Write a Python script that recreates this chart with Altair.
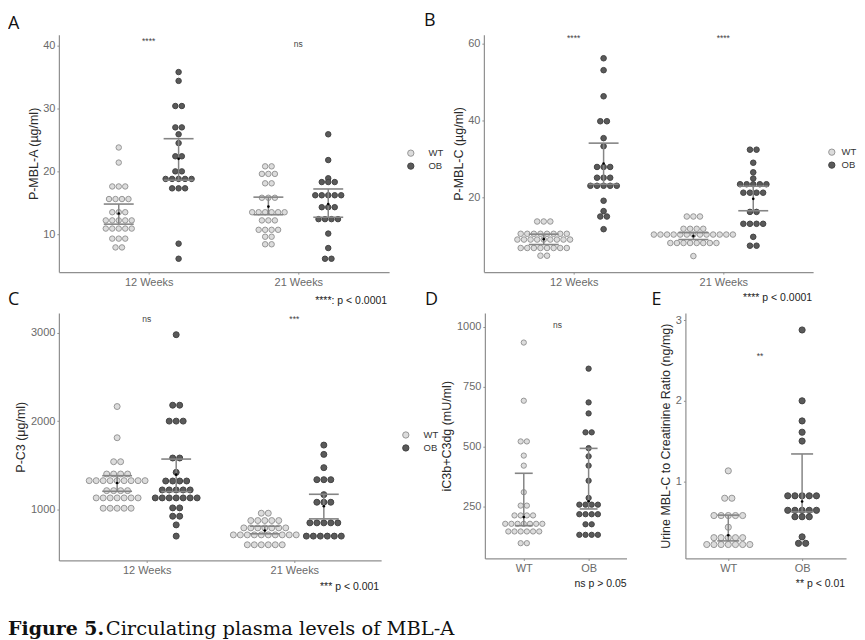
import altair as alt
import pandas as pd

SANS = "Liberation Sans"
GROUPS = ["WT", "OB"]
FILLS = ["#dcdcdc", "#5a5a5a"]
STROKES = ["#969696", "#434343"]
BAR_COLOR = "#858585"
TIMES = ["12 Weeks", "21 Weeks"]
GENOS = ["WT", "OB"]

# ---------------------------------------------------------------- data
# every dot-plot row: (value, number of dots in that row)
# Panel A  P-MBL-A (ug/ml)
A_WT_12 = [(23.8, 1), (21.4, 1), (17.6, 3), (15.6, 4), (13.5, 3), (12.2, 5), (10.9, 5), (9.3, 3), (7.9, 2)]
A_OB_12 = [(35.8, 1), (34.4, 1), (30.4, 2), (27.0, 2), (25.9, 1), (24.5, 1), (22.4, 2), (20.0, 2),
           (18.8, 5), (17.3, 3), (8.5, 1), (6.1, 1)]
A_WT_21 = [(20.8, 2), (19.6, 3), (18.1, 2), (15.8, 3), (13.5, 6), (12.2, 3), (10.7, 4), (9.6, 2), (8.4, 2)]
A_OB_21 = [(25.9, 1), (21.8, 1), (18.9, 1), (18.3, 3), (16.2, 5), (14.3, 3), (12.4, 4), (10.1, 1),
           (7.8, 1), (6.1, 2)]
# (group, category, lower bar, upper bar, centre point)
A_BARS = [("WT", 1, 11.6, 14.8, 13.3), ("OB", 1, 18.6, 25.2, 22.0),
          ("WT", 2, 13.1, 15.9, 14.4), ("OB", 2, 12.7, 17.2, 14.8)]
A_SIG = [("****", 1, 40.7), ("ns", 2, 40.3)]

# Panel B  P-MBL-C (ug/ml)
B_WT_12 = [(13.7, 3), (10.5, 8), (9.0, 9), (6.8, 8), (4.8, 2)]
B_OB_12 = [(56.2, 1), (53.1, 1), (46.3, 1), (39.8, 2), (35.4, 1), (33.3, 1), (27.9, 3), (25.1, 3),
           (23.0, 5), (19.1, 1), (16.4, 1), (15.0, 2), (11.7, 1)]
B_WT_21 = [(15.0, 3), (11.8, 4), (10.3, 13), (8.1, 8), (4.7, 1)]
B_OB_21 = [(32.4, 2), (29.0, 1), (26.5, 1), (24.9, 1), (23.4, 5), (21.2, 4), (16.2, 2), (13.1, 4),
           (9.7, 1), (7.4, 2)]
B_BARS = [("WT", 1, 7.7, 10.4, 9.1), ("OB", 1, 23.4, 34.1, 28.8),
          ("WT", 2, 9.0, 10.8, 9.9), ("OB", 2, 16.5, 22.9, 19.6)]
B_SIG = [("****", 1, 61.6), ("****", 2, 61.6)]

# Panel C  P-C3 (ug/ml)
C_WT_12 = [(2165, 1), (1812, 1), (1541, 2), (1402, 4), (1327, 9), (1214, 4), (1132, 7), (1015, 5)]
C_OB_12 = [(2977, 1), (2180, 2), (2000, 3), (1583, 2), (1421, 1), (1323, 4), (1222, 5), (1132, 7),
           (1019, 2), (925, 2), (827, 1), (700, 1)]
C_WT_21 = [(959, 2), (876, 5), (793, 7), (714, 10), (602, 6)]
C_OB_21 = [(1729, 1), (1624, 1), (1474, 1), (1338, 3), (1169, 1), (1083, 3), (850, 5), (700, 6)]
C_BARS = [("WT", 1, 1207, 1383, 1301), ("OB", 1, 1203, 1571, 1395),
          ("WT", 2, 726, 812, 763), ("OB", 2, 895, 1173, 1038)]
C_SIG = [("ns", 1, 3150), ("***", 2, 3160)]

# Panel D  iC3b+C3dg (mU/ml)
D_WT = [(935, 1), (692, 1), (522, 2), (463, 1), (421, 1), (310, 1), (254, 2), (213, 4), (178, 7),
        (146, 6), (97, 2)]
D_OB = [(826, 1), (685, 1), (639, 1), (560, 2), (494, 1), (460, 1), (421, 1), (358, 1), (286, 1),
        (258, 4), (218, 4), (176, 2), (132, 4)]
D_BARS = [("WT", 1, 170, 389, 206), ("OB", 2, 240, 493, 272)]
D_SIG = [("ns", 1.52, 1008)]

# Panel E  Urine MBL-C to creatinine ratio (ng/mg)
E_WT = [(1.13, 1), (0.79, 2), (0.575, 5), (0.43, 1), (0.30, 5), (0.215, 7)]
E_OB = [(2.88, 1), (2.00, 1), (1.75, 1), (1.61, 1), (1.50, 1), (0.82, 5), (0.64, 5), (0.56, 3),
        (0.31, 1), (0.23, 2)]
E_BARS = [("WT", 1, 0.26, 0.58, 0.33), ("OB", 2, 0.62, 1.34, 0.75)]
E_SIG = [("**", 1.43, 2.56)]

CAPTION_BOLD = "Figure 5."
CAPTION_TEXT = "Circulating plasma levels of MBL-A"


# ---------------------------------------------------------------- helpers
def dot_frame(series, dodge, step):
    recs = []
    for group, cat, rows in series:
        centre = cat + dodge[group]
        for value, n in rows:
            for i in range(n):
                recs.append({"group": group, "x": centre + (i - (n - 1) / 2) * step, "y": value})
    return pd.DataFrame(recs)


def bar_frame(bars, dodge, cap):
    recs = []
    for group, cat, lo, hi, mean in bars:
        c = cat + dodge[group]
        recs.append({"group": group, "xc": c, "xa": c - cap, "xb": c + cap,
                     "lo": lo, "hi": hi, "mean": mean})
    return pd.DataFrame(recs)


def text_layer(text, x, y, align="left", baseline="alphabetic", font=SANS, size=10.5,
               color="#222222", weight="normal", opacity=1):
    return alt.Chart(pd.DataFrame({"t": [text]})).mark_text(
        align=align, baseline=baseline, font=font, fontSize=size, color=color,
        fontWeight=weight, opacity=opacity
    ).encode(x=alt.value(x), y=alt.value(y), text="t:N")


def panel(series, bars, sig, *, width, height, xdom, ydom, yticks, ytitle, xlabels, dodge,
          step, cap, size, letter, letter_pos, legend_pos=None, legend_offset=13, notes=(),
          spacer=None):
    xs = alt.Scale(domain=xdom, nice=False, zero=False)
    ys = alt.Scale(domain=ydom, nice=False, zero=False)
    label_expr = f"datum.value == 1 ? '{xlabels[0]}' : '{xlabels[1]}'"
    xa = alt.Axis(values=[1, 2], labelExpr=label_expr, title=None, labelPadding=2)
    ya = alt.Axis(values=yticks, format="d", title=ytitle)
    if legend_pos is None:
        legend = None
    else:
        legend = alt.Legend(orient="none", legendX=legend_pos[0], legendY=legend_pos[1],
                            title=None, labelOffset=legend_offset)

    dots = alt.Chart(dot_frame(series, dodge, step)).mark_circle(
        size=size, opacity=1, strokeWidth=1
    ).encode(
        x=alt.X("x:Q", scale=xs, axis=xa),
        y=alt.Y("y:Q", scale=ys, axis=ya),
        color=alt.Color("group:N", scale=alt.Scale(domain=GROUPS, range=FILLS), legend=legend),
        stroke=alt.Stroke("group:N", scale=alt.Scale(domain=GROUPS, range=STROKES), legend=legend),
    )
    bdf = bar_frame(bars, dodge, cap)
    stem = alt.Chart(bdf).mark_rule(color=BAR_COLOR, strokeWidth=1.5).encode(
        x=alt.X("xc:Q", scale=xs, axis=xa),
        y=alt.Y("lo:Q", scale=ys, axis=ya), y2=alt.Y2("hi"))
    top = alt.Chart(bdf).mark_rule(color=BAR_COLOR, strokeWidth=1.6).encode(
        x=alt.X("xa:Q", scale=xs, axis=xa), x2=alt.X2("xb"),
        y=alt.Y("hi:Q", scale=ys, axis=ya))
    bottom = alt.Chart(bdf).mark_rule(color=BAR_COLOR, strokeWidth=1.6).encode(
        x=alt.X("xa:Q", scale=xs, axis=xa), x2=alt.X2("xb"),
        y=alt.Y("lo:Q", scale=ys, axis=ya))
    mean = alt.Chart(bdf).mark_circle(color="#000000", size=7, opacity=1).encode(
        x=alt.X("xc:Q", scale=xs, axis=xa),
        y=alt.Y("mean:Q", scale=ys, axis=ya))
    sigm = alt.Chart(pd.DataFrame(sig, columns=["t", "x", "y"])).mark_text(
        font=SANS, fontSize=8.5, color="#444444", baseline="middle"
    ).encode(
        x=alt.X("x:Q", scale=xs, axis=xa),
        y=alt.Y("y:Q", scale=ys, axis=ya),
        text="t:N")
    layers = [dots, stem, top, bottom, mean, sigm,
              text_layer(letter, letter_pos[0], letter_pos[1], font="Open Sans", size=18,
                         color="#111111")]
    for text, px, py in notes:
        layers.append(text_layer(text, px, py, align="right", baseline="middle"))
    if spacer is not None:
        layers.append(text_layer(".", spacer, height / 2, align="right", opacity=0))
    return alt.layer(*layers).properties(width=width, height=height)


WT_OB_DODGE = {"WT": -0.2, "OB": 0.2}
NO_DODGE = {"WT": 0.0, "OB": 0.0}

pA = panel([("WT", 1, A_WT_12), ("OB", 1, A_OB_12), ("WT", 2, A_WT_21), ("OB", 2, A_OB_21)],
           A_BARS, A_SIG, width=331, height=238, xdom=[0.4, 2.6067], ydom=[3.97, 41.75],
           yticks=[10, 20, 30, 40], ytitle="P-MBL-A (µg/ml)", xlabels=TIMES, dodge=WT_OB_DODGE,
           step=6.5 / 150, cap=0.1, size=30, letter="A", letter_pos=(-51, -6),
           legend_pos=(348, 114))
pB = panel([("WT", 1, B_WT_12), ("OB", 1, B_OB_12), ("WT", 2, B_WT_21), ("OB", 2, B_OB_21)],
           B_BARS, B_SIG, width=330, height=238, xdom=[0.4, 2.6], ydom=[0.52, 62.34],
           yticks=[20, 40, 60], ytitle="P-MBL-C (µg/ml)", xlabels=TIMES, dodge=WT_OB_DODGE,
           step=6.6 / 150, cap=0.1, size=31, letter="B", letter_pos=(-60, -9),
           legend_pos=(344, 113), legend_offset=5)
pC = panel([("WT", 1, C_WT_12), ("OB", 1, C_OB_12), ("WT", 2, C_WT_21), ("OB", 2, C_OB_21)],
           C_BARS, C_SIG, width=323, height=248, xdom=[0.4054, 2.588], ydom=[425, 3222],
           yticks=[1000, 2000, 3000], ytitle="P-C3 (μg/ml)", xlabels=TIMES, dodge=WT_OB_DODGE,
           step=7.0 / 148, cap=0.101, size=36, letter="C", letter_pos=(-51, -8.5),
           notes=[("****: p < 0.0001", 329, -12), ("*** p < 0.001", 321, 275)])
pD = panel([("WT", 1, D_WT), ("OB", 2, D_OB)],
           D_BARS, D_SIG, width=142, height=246, xdom=[0.4, 2.585], ydom=[33.3, 1058.3],
           yticks=[250, 500, 750, 1000], ytitle="iC3b+C3dg (mU/ml)", xlabels=GENOS,
           dodge=NO_DODGE, step=6.2 / 65, cap=0.138, size=28, letter="D",
           letter_pos=(-60, -8.5), legend_pos=(-84, 117.5),
           notes=[("ns p > 0.05", 142, 271.3)], spacer=153)
pE = panel([("WT", 1, E_WT), ("OB", 2, E_OB)],
           E_BARS, E_SIG, width=161, height=246, xdom=[0.419, 2.595], ydom=[0.042, 3.0905],
           yticks=[1, 2, 3], ytitle="Urine MBL-C to Creatinine Ratio (ng/mg)", xlabels=GENOS,
           dodge=NO_DODGE, step=7.2 / 74, cap=0.149, size=38, letter="E",
           letter_pos=(-34, -8.5),
           notes=[("**** p < 0.0001", 127, -14.7), ("** p < 0.01", 160, 272)])

caption = alt.layer(
    text_layer(CAPTION_BOLD, -51, 39, font="DejaVu Serif", size=19, color="#111111", weight="bold"),
    text_layer(CAPTION_TEXT, 47, 39, font="DejaVu Serif", size=19.5, color="#111111"),
).properties(width=400, height=40)

row1 = alt.hconcat(pA, pB, spacing=95, bounds="flush").resolve_scale(
    color="independent", stroke="independent").resolve_legend(color="independent", stroke="independent")
row2 = alt.hconcat(pC, pD, pE, spacing=14).resolve_scale(
    color="independent", stroke="independent").resolve_legend(color="independent", stroke="independent")

chart = alt.vconcat(row1, row2, caption, spacing=3).resolve_scale(
    color="independent", stroke="independent"
).resolve_legend(
    color="independent", stroke="independent"
).properties(
    padding={"left": 0, "top": 3, "right": 0, "bottom": 0}
).configure_view(
    stroke=None
).configure_axis(
    domainColor="#8f8f8f", domainWidth=1.2, tickColor="#8f8f8f", tickSize=2, tickWidth=1,
    labelColor="#6a6a6a", labelFont=SANS, labelFontSize=11, labelPadding=2,
    titleFont=SANS, titleFontSize=12.5, titleFontWeight="normal", titleColor="#2a2a2a",
    titlePadding=2.5, grid=False
).configure_legend(
    symbolType="circle", symbolSize=40, symbolStrokeWidth=1, labelFont=SANS, labelFontSize=9.5,
    labelColor="#333333", labelOffset=13, rowPadding=2, padding=0
)

chart.save("out.html", embed_options={"renderer": "svg", "actions": False})
